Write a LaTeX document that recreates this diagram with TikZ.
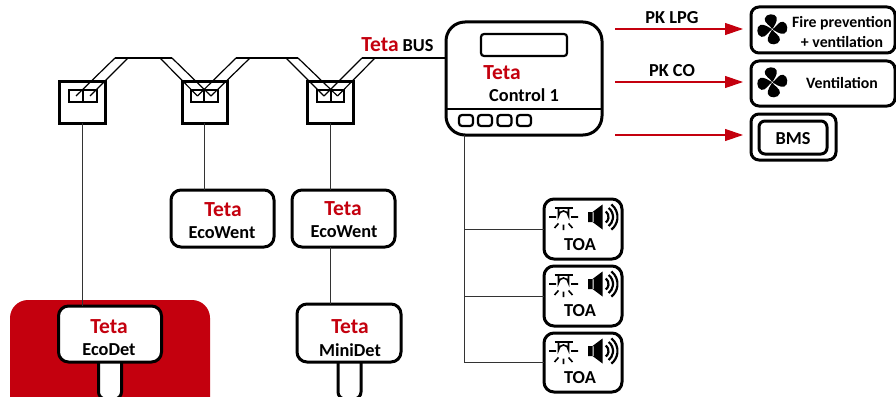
\documentclass[tikz,border=0pt]{standalone}
\usepackage{fontspec}
\setmainfont{Carlito}[BoldFont={Carlito Bold}]
\usetikzlibrary{arrows.meta}
\definecolor{tetared}{HTML}{C4000E}
\tikzset{
  x=1pt,y=-1pt,
  base/.style={inner sep=0pt,outer sep=0pt},
  boxA/.style={base,draw=black,line width=3pt,rounded corners=10pt,fill=white},
  boxB/.style={base,draw=black,line width=3pt,rounded corners=8pt,fill=white},
  jbox/.style={base,draw=black,line width=3pt,fill=white},
  slot/.style={base,draw=black,line width=2pt,fill=white},
  btn/.style={base,draw=black,line width=2.2pt,rounded corners=3pt,fill=white},
  thin wire/.style={draw=black!80,line width=1pt},
  bus/.style={draw=black,line width=2.6pt},
  tap/.style={draw=black,line width=1.2pt},
  sig/.style={draw=tetared,line width=1.2pt,-{Triangle[length=18pt,width=12pt]},shorten >=8pt},
  tetatxt/.style={base,font=\fontsize{21.5}{21.5}\selectfont\bfseries,text=tetared},
  lbl/.style={base,font=\fontsize{18.3}{18.3}\selectfont\bfseries,text=black},
  small/.style={base,font=\fontsize{15.8}{15.8}\selectfont\bfseries,text=black},
  pics/fan/.style={code={
    \foreach \r in {0,90,180,270}{
      \fill[black,rotate=\r,scale=1.08] (0,0) .. controls (-1,-3) and (-8,-6) .. (-7,-10)
        .. controls (-6,-15) and (3,-15) .. (4,-11)
        .. controls (5,-7) and (1.5,-3) .. (0,0);}
    \fill[white] (0,0) circle (0.8);
  }},
  pics/toaicons/.style={code={
    % beacon
    \draw[line width=2pt] (-9,-10) -- (9,-10);
    \draw[line width=1.6pt] (-5,-10) -- (-5,-2) arc[start angle=180,end angle=360,radius=5] -- (5,-10);
    \draw[line width=1.6pt] (-14.5,-1) -- (-7.5,-1) (7.5,-1) -- (14.5,-1)
      (-9,10) -- (-5,5.5) (9,10) -- (5,5.5) (0,12) -- (0,6.5);
    % speaker
    \fill[black] (24.5,-6) rectangle (30,4) (29,-6) -- (39,-13.5) -- (39,11.5) -- (29,4) -- cycle;
    \foreach \q in {7,11.5,16}{
      \draw[line width=2.2pt] (38,-1) ++(-52:\q) arc[start angle=-52,end angle=52,radius=\q];}
  }}
}
\begin{document}
\begin{tikzpicture}
\useasboundingbox (0,0) rectangle (896,396);
\clip (0,0) rectangle (896,396);

% red backdrop and sensors
\fill[tetared,rounded corners=18pt] (10,300) rectangle (210,420);
\node[boxA,rounded corners=7pt,minimum width=23pt,minimum height=60pt] (s1) at (110,369) {};
\node[boxA,rounded corners=7pt,minimum width=23pt,minimum height=60pt] (s2) at (349.5,369) {};

% bus points
\coordinate (b1) at (115,58); \coordinate (b2) at (172,58);
\coordinate (b3) at (236,58); \coordinate (b4) at (298,58);
\coordinate (b5) at (362,58);
\coordinate (t1) at (128,58); \coordinate (t2) at (160,58);
\coordinate (t3) at (250,58); \coordinate (t4) at (286,58);
\coordinate (t5) at (375,58);

% junction boxes
\node[jbox,minimum width=46pt,minimum height=42pt] (j1) at (82.5,102) {};
\node[jbox,minimum width=45pt,minimum height=42pt] (j2) at (204.5,102) {};
\node[jbox,minimum width=46pt,minimum height=42pt] (j3) at (330,102) {};
\node[slot,minimum width=14pt,minimum height=12pt] (j1a) at (76,96) {};
\node[slot,minimum width=14pt,minimum height=12pt] (j1b) at (90,96) {};
\node[slot,minimum width=13.5pt,minimum height=12pt] (j2a) at (197.5,96) {};
\node[slot,minimum width=13.5pt,minimum height=12pt] (j2b) at (211,96) {};
\node[slot,minimum width=13.5pt,minimum height=12pt] (j3a) at (324,96) {};
\node[slot,minimum width=13.5pt,minimum height=12pt] (j3b) at (337.5,96) {};

% control unit
\node[boxA,rounded corners=19pt,minimum width=156pt,minimum height=113pt] (ctrl) at (524,78.5) {};
\node[btn,minimum width=86pt,minimum height=22pt] (disp) at (524,45) {};
\coordinate (cl) at (446,109); \coordinate (cr) at (602,109);
\draw[black,line width=2.4pt] (cl) -- (cr);
\node[btn,minimum width=14pt,minimum height=11pt] (k1) at (466,120.5) {};
\node[btn,minimum width=14pt,minimum height=11pt] (k2) at (485,120.5) {};
\node[btn,minimum width=14pt,minimum height=11pt] (k3) at (504.5,120.5) {};
\node[btn,minimum width=14pt,minimum height=11pt] (k4) at (524,120.5) {};

% bus
\draw[bus] (b1) -- (b2);
\draw[bus] (b3) -- (b4);
\draw[bus] (b5) -- (b5 -| ctrl.west);
\draw[tap] (b1) -- (j1a.center);
\draw[tap] (t1) -- (j1b.center);
\draw[tap] (t2) -- (j2a.center);
\draw[tap] (b2) -- (j2b.center);
\draw[tap] (b3) -- (j2a.center);
\draw[tap] (t3) -- (j2b.center);
\draw[tap] (t4) -- (j3a.center);
\draw[tap] (b4) -- (j3b.center);
\draw[tap] (b5) -- (j3a.center);
\draw[tap] (t5) -- (j3b.center);

% field devices
\node[boxA,minimum width=103pt,minimum height=57pt] (w1) at (222.5,218.5) {};
\node[boxA,minimum width=103pt,minimum height=57pt] (w2) at (343.5,218.5) {};
\node[boxA,minimum width=103pt,minimum height=56pt] (det) at (110,334) {};
\node[boxA,minimum width=104pt,minimum height=58pt] (mini) at (349,333) {};
\draw[thin wire] (j1.south) -- (j1.south |- det.north);
\draw[thin wire] (j2.south) -- (j2.south |- w1.north);
\draw[thin wire] (j3.south) -- (j3.south |- w2.north);
\draw[thin wire] (j3.south |- w2.south) -- (j3.south |- mini.north);

\node[tetatxt] (tw1) at (223,210) {Teta};
\node[lbl] (lw1) at (222,233) {EcoWent};
\node[tetatxt] (tw2) at (343,209) {Teta};
\node[lbl] (lw2) at (344,232) {EcoWent};
\node[tetatxt] (td) at (109,327) {Teta};
\node[lbl] (ld) at (109,350) {EcoDet};
\node[tetatxt] (tm) at (350,327) {Teta};
\node[lbl] (lm) at (350,350) {MiniDet};

% bus and control labels
\node[tetatxt] (tb) at (380,45) {Teta};
\node[lbl] (lb) at (418,45.5) {BUS};
\node[tetatxt] (tc) at (502,73) {Teta};
\node[lbl] (lc) at (524,95) {Control 1};

% outputs
\node[boxB,minimum width=144pt,minimum height=46pt] (fire) at (823,30) {};
\node[boxB,minimum width=144pt,minimum height=45pt] (vent) at (823,83.5) {};
\node[boxB,minimum width=85pt,minimum height=46pt] (bms) at (793.5,137) {};
\node[boxB,rounded corners=6pt,minimum width=68pt,minimum height=33pt] (bmsi) at (793,137.5) {};
\coordinate (a1) at (615,29); \coordinate (a2) at (615,82); \coordinate (a3) at (615,135);
\draw[sig] (a1) -- (a1 -| fire.west);
\draw[sig] (a2) -- (a2 -| vent.west);
\draw[sig] (a3) -- (a3 -| bms.west);
\node[lbl] (p1) at (672,18) {PK LPG};
\node[lbl] (p2) at (672,71) {PK CO};
\node[small] (f1) at (842,23) {Fire prevention};
\node[small] (f2) at (842,42) {+ ventilation};
\node[small] (v1) at (842,83) {Ventilation};
\node[lbl] (bt) at (793,139) {BMS};
\pic at (772.3,29.3) {fan};
\pic at (772.3,82.3) {fan};

% TOA modules
\node[boxA,minimum width=78pt,minimum height=60pt] (o1) at (583,229) {};
\node[boxA,minimum width=78pt,minimum height=60pt] (o2) at (583,296) {};
\node[boxA,minimum width=78pt,minimum height=59pt] (o3) at (583,362.5) {};
\node[lbl] (to1) at (580,245) {TOA};
\node[lbl] (to2) at (580,311) {TOA};
\node[lbl] (to3) at (580,378) {TOA};
\pic at (563.5,218) {toaicons};
\pic at (563.5,285) {toaicons};
\pic at (563.5,352) {toaicons};
\coordinate (tr) at (464,135);
\draw[thin wire] (tr) -- (tr |- o3.west) -- (o3.west);
\draw[thin wire] (tr |- o1.west) -- (o1.west);
\draw[thin wire] (tr |- o2.west) -- (o2.west);
\end{tikzpicture}
\end{document}
